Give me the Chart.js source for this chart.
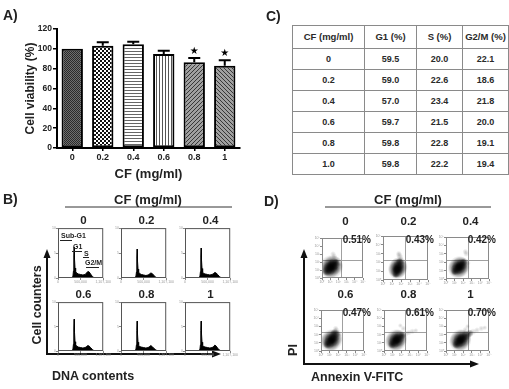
<!DOCTYPE html>
<html>
<head>
<meta charset="utf-8">
<script src="https://cdn.jsdelivr.net/npm/chart.js@4.4.1/dist/chart.umd.min.js"></script>
<style>
body{margin:0;width:509px;height:389px;background:#fff;position:relative;overflow:hidden;font-family:"Liberation Sans",Arial,sans-serif;font-weight:bold;color:#222}
.abs{position:absolute}
.txt{position:absolute;white-space:nowrap;font-weight:bold;line-height:1}
.mid{transform:translate(-50%,-50%)}
#cycleTable{border-collapse:collapse;table-layout:fixed;width:216px;height:150px;left:292px;top:25px}
#cycleTable td{border:1px solid #8a8a8a;text-align:center;vertical-align:middle;font-size:9px;padding:0;color:#2a2a2a}
#cycleTable tr:first-child td{font-size:9.5px}
.bar{position:absolute;height:1px;background:#222}
</style>
</head>
<body>
<canvas id="viabilityChart" class="abs" width="250" height="182" style="left:0;top:0"></canvas>
<table id="cycleTable" class="abs"></table>
<svg class="abs" style="left:0;top:0" width="509" height="389">
  <line x1="65" y1="207" x2="232" y2="207" stroke="#333" stroke-width="1"/>
  <line x1="325" y1="207" x2="491" y2="207" stroke="#333" stroke-width="1"/>
  <line x1="47" y1="355" x2="47" y2="257" stroke="#111" stroke-width="2"/>
  <polygon points="47,249 43.5,258 50.5,258" fill="#111"/>
  <line x1="46" y1="354" x2="213" y2="354" stroke="#111" stroke-width="2"/>
  <polygon points="221,354 212,350.5 212,357.5" fill="#111"/>
  <line x1="304" y1="365" x2="304" y2="257" stroke="#111" stroke-width="2"/>
  <polygon points="304,249 300.5,258 307.5,258" fill="#111"/>
  <line x1="303" y1="364" x2="471" y2="364" stroke="#111" stroke-width="2"/>
  <polygon points="479,364 470,360.5 470,367.5" fill="#111"/>
</svg>
<script>
// A) cell viability
var concentrations = ['0', '0.2', '0.4', '0.6', '0.8', '1'];
var viability = [100, 103.2, 104.6, 94.8, 86.4, 83.0];
var viabilityErr = [0, 3.4, 2.6, 3.2, 4.4, 5.5];
var significant = [false, false, false, false, true, true];
var viabilityTicks = [0, 20, 40, 60, 80, 100, 120];

// C) cell cycle table
var tableHead = ['CF (mg/ml)', 'G1 (%)', 'S (%)', 'G2/M (%)'];
var tableDose = ['0', '0.2', '0.4', '0.6', '0.8', '1.0'];
var phaseG1 = ['59.5', '59.0', '57.0', '59.7', '59.8', '59.8'];
var phaseS = ['20.0', '22.6', '23.4', '21.5', '22.8', '22.2'];
var phaseG2M = ['22.1', '18.6', '21.8', '20.0', '19.1', '19.4'];

// B) DNA histograms
var histX = [0, 40, 80, 200, 300, 330, 342, 350, 356, 362, 368, 376, 390, 410, 450, 500, 550, 600, 630, 660, 690, 720, 760, 800, 1000];
var hist0 = [0, 0.5, 0, 0.5, 1, 3, 14, 42, 62, 58, 38, 20, 13, 10, 8, 7, 6, 7, 10, 13, 12, 8, 3, 0.5, 0];
var hist02 = [0, 0.5, 0, 0.5, 1, 3, 12, 40, 58, 54, 34, 18, 12, 9, 7, 6, 5, 6, 8, 10, 9, 6, 2, 0.5, 0];
var hist04 = [0, 0.5, 0, 0.5, 1, 3, 13, 42, 60, 56, 36, 19, 12, 9, 8, 7, 6, 7, 9, 11, 10, 7, 3, 0.5, 0];
var hist06 = [0, 0.5, 0, 0.5, 1, 3, 14, 45, 65, 60, 38, 19, 13, 10, 8, 7, 6, 7, 9, 11, 10, 7, 3, 0.5, 0];
var hist08 = [0, 0.5, 0, 0.5, 1, 3, 13, 42, 61, 57, 35, 18, 12, 9, 8, 7, 6, 7, 9, 11, 9, 6, 3, 0.5, 0];
var hist1 = [0, 0.5, 0, 0.5, 1, 3, 13, 42, 61, 57, 35, 18, 12, 9, 8, 7, 6, 7, 9, 12, 10, 6, 2, 0.5, 0];
var histXTicks = ['0', '500,000', '1,107,100'];
var histYTicks = ['0', '5', '10'];

// D) annexin V / PI dot plots, [x, y, r]
var apo0 = [[23,28,12],[19,24,10],[27,32,10],[22,27,7],[24,29,6],[16,21,7],[29,35,6],[23,28,4],[21,26,4],[13,18,5],[33,38,4],[27,60,3],[30,54,3],[36,42,2.5],[42,34,2.5],[10,14,3],[35,24,2.5],[20,40,2.5]];
var apo02 = [[33,27,10],[31,22,9],[35,32,9],[33,27,6],[32,25,5],[30,18,6],[36,36,6],[33,27,4],[31,23,4],[29,14,4],[37,41,4],[36,56,3.5],[38,52,3.5],[35,60,3],[40,47,3],[45,40,2.5],[27,10,3]];
var apo04 = [[31,29,11],[27,25,10],[34,32,9],[30,28,7],[32,30,5],[24,22,6],[37,35,6],[31,29,4],[29,27,4],[21,19,4],[40,39,4],[45,65,3],[47,60,3],[42,45,2.5],[48,42,2.5],[52,38,2.5],[18,14,3]];
var apo06 = [[25,27,11],[21,23,10],[29,31,9],[24,26,7],[26,29,5],[18,19,6],[31,36,6],[25,27,4],[23,25,4],[15,16,4],[33,42,5],[36,50,3.5],[34,55,3],[40,45,3],[44,40,2.5],[30,46,3.5]];
var apo08 = [[29,27,11],[25,23,10],[33,31,9],[28,26,7],[30,29,5],[22,19,6],[36,34,6],[29,27,4],[27,25,4],[19,16,4],[42,38,4],[50,42,3.5],[58,45,3],[66,48,3],[45,55,3],[38,62,2.5],[74,50,2.5]];
var apo1 = [[34,27,11],[30,23,10],[38,31,9],[33,26,7],[35,29,5],[27,19,6],[41,34,6],[34,27,4],[32,25,4],[24,16,4],[47,38,5],[55,43,4],[63,47,3.5],[72,51,3],[82,55,3],[90,57,2.5],[45,52,3],[50,60,2.5]];
var apoPercent = ['0.51%', '0.43%', '0.42%', '0.47%', '0.61%', '0.70%'];
var gateX = [46, 49, 50, 48, 48, 50];
var gateY = [46, 46, 46, 46, 46, 46];
var apoTicks = ['10\u2070', '10\u00b9', '10\u00b2', '10\u00b3', '10\u2074', '10\u2075'];

var FONT = '"Liberation Sans", Arial, sans-serif';
Chart.defaults.font.family = FONT;
Chart.defaults.font.weight = 'bold';
Chart.defaults.color = '#222';
Chart.defaults.animation = false;

function addText(text, x, y, size, extra)
{
  var d = document.createElement('div');
  d.className = 'txt' + (extra && extra.left ? '' : ' mid');
  d.style.left = x + 'px';
  d.style.top = y + 'px';
  d.style.fontSize = size + 'px';
  if (extra && extra.rotate) d.style.transform = 'translate(-50%,-50%) rotate(-90deg)';
  if (extra && extra.right) { d.className = 'txt'; d.style.left = ''; d.style.right = (509 - x) + 'px'; d.style.transform = 'translateY(-50%)'; }
  d.textContent = text;
  document.body.appendChild(d);
  return d;
}

function addBar(x, y, w)
{
  var d = document.createElement('div');
  d.className = 'bar';
  d.style.left = x + 'px'; d.style.top = y + 'px'; d.style.width = w + 'px';
  document.body.appendChild(d);
}

function makePattern(kind)
{
  var c = document.createElement('canvas');
  var g = c.getContext('2d');
  if (kind == 'fine') {
    c.width = 2; c.height = 2;
    g.fillStyle = '#6e6e6e'; g.fillRect(0, 0, 2, 2);
    g.fillStyle = '#2a2a2a'; g.fillRect(0, 0, 1, 1); g.fillRect(1, 1, 1, 1);
  } else if (kind == 'checker') {
    c.width = 4; c.height = 4;
    g.fillStyle = '#fff'; g.fillRect(0, 0, 4, 4);
    g.fillStyle = '#111'; g.fillRect(0, 0, 2, 2); g.fillRect(2, 2, 2, 2);
  } else if (kind == 'hlines') {
    c.width = 1; c.height = 3;
    g.fillStyle = '#fff'; g.fillRect(0, 0, 1, 3);
    g.fillStyle = '#666'; g.fillRect(0, 0, 1, 1);
  } else if (kind == 'vlines') {
    c.width = 3; c.height = 1;
    g.fillStyle = '#fff'; g.fillRect(0, 0, 3, 1);
    g.fillStyle = '#555'; g.fillRect(0, 0, 1, 1);
  } else {
    c.width = 4; c.height = 4;
    g.fillStyle = '#a0a0a0'; g.fillRect(0, 0, 4, 4);
    g.fillStyle = '#383838';
    for (var i = 0; i < 4; i++) {
      if (kind == 'diagUp') g.fillRect(i, 3 - i, 1, 1);
      else g.fillRect(i, i, 1, 1);
    }
  }
  return g.createPattern(c, 'repeat');
}

// soft blob fill so the dot plot reads as a density cloud; small stray dots stay pale
function blobFill(context)
{
  var chart = context.chart, raw = context.raw;
  if (!raw || !chart.chartArea) return 'rgba(0,0,0,0.2)';
  var px = chart.scales.x.getPixelForValue(raw.x);
  var py = chart.scales.y.getPixelForValue(raw.y);
  var peak = raw.r > 3.6 ? 0.6 : 0.16;
  var g = chart.ctx.createRadialGradient(px, py, 0, px, py, raw.r);
  g.addColorStop(0, 'rgba(0,0,0,' + peak + ')');
  g.addColorStop(0.55, 'rgba(0,0,0,' + (peak / 2) + ')');
  g.addColorStop(1, 'rgba(0,0,0,0)');
  return g;
}

var errorBarPlugin = {
  id: 'errorBars',
  afterDatasetsDraw: function(chart)
  {
    var ctx = chart.ctx, meta = chart.getDatasetMeta(0), y = chart.scales.y;
    ctx.save();
    ctx.strokeStyle = '#000'; ctx.fillStyle = '#000'; ctx.lineWidth = 2;
    ctx.font = '10px "DejaVu Sans"'; ctx.textAlign = 'center'; ctx.textBaseline = 'middle';
    for (var i = 0; i < meta.data.length; i++) {
      var bar = meta.data[i];
      var top = y.getPixelForValue(viability[i] + viabilityErr[i]);
      if (viabilityErr[i] > 0) {
        ctx.beginPath();
        ctx.moveTo(bar.x, bar.y); ctx.lineTo(bar.x, top);
        ctx.moveTo(bar.x - 6, top); ctx.lineTo(bar.x + 6, top);
        ctx.stroke();
      }
      if (significant[i]) ctx.fillText('\u2605', bar.x, top - 7);
    }
    ctx.restore();
  }
};

var framePlugin = {
  id: 'frame',
  afterDraw: function(chart, args, opts)
  {
    var a = chart.chartArea, ctx = chart.ctx;
    ctx.save();
    ctx.strokeStyle = opts.color || '#444'; ctx.lineWidth = 1;
    ctx.strokeRect(a.left + 0.5, a.top + 0.5, a.right - a.left - 1, a.bottom - a.top - 1);
    ctx.restore();
  }
};

var gatePlugin = {
  id: 'gate',
  beforeDatasetsDraw: function(chart, args, opts)
  {
    var a = chart.chartArea, ctx = chart.ctx;
    var gx = Math.round(chart.scales.x.getPixelForValue(opts.x)) + 0.5;
    var gy = Math.round(chart.scales.y.getPixelForValue(opts.y)) + 0.5;
    ctx.save();
    ctx.strokeStyle = '#a0a0a0'; ctx.lineWidth = 1;
    ctx.beginPath();
    ctx.moveTo(gx, a.top); ctx.lineTo(gx, a.bottom);
    ctx.moveTo(a.left, gy); ctx.lineTo(a.right, gy);
    ctx.stroke();
    ctx.restore();
  }
};

function drawViabilityChart()
{
  var ctx = document.getElementById('viabilityChart');
  var patterns = ['fine', 'checker', 'hlines', 'vlines', 'diagUp', 'diagDown'].map(makePattern);
  new Chart(ctx, {
    type: 'bar',
    data: {
      labels: concentrations,
      datasets: [{
        data: viability,
        backgroundColor: patterns,
        borderColor: '#000',
        borderWidth: 2,
        borderSkipped: false,
        barPercentage: 0.7,
        categoryPercentage: 1
      }]
    },
    options: {
      responsive: false,
      layout: { padding: { left: 23, top: 29, right: 10, bottom: 0 } },
      plugins: { legend: { display: false }, tooltip: { enabled: false } },
      scales: {
        x: {
          grid: { offset: false, drawOnChartArea: false, color: '#000', tickLength: 3, lineWidth: 1.5 },
          border: { color: '#000', width: 2 },
          ticks: { font: { size: 9, weight: 'bold' }, color: '#222', padding: 1 },
          title: { display: true, text: 'CF (mg/ml)', font: { size: 13, weight: 'bold' }, color: '#222', padding: 0 },
          afterFit: function(s) { s.height = 34; }
        },
        y: {
          min: 0, max: 120,
          afterBuildTicks: function(s) { s.ticks = viabilityTicks.map(function(v) { return { value: v }; }); },
          ticks: { font: { size: 8.5, weight: 'bold' }, color: '#222', padding: 1 },
          grid: { drawOnChartArea: false, color: '#000', tickLength: 4, lineWidth: 1.5 },
          border: { color: '#000', width: 2 },
          title: { display: true, text: 'Cell viability (%)', font: { size: 12, weight: 'bold' }, color: '#222', padding: 0 },
          afterFit: function(s) { s.width = 34; }
        }
      }
    },
    plugins: [errorBarPlugin]
  });
}

function drawTable()
{
  var t = document.getElementById('cycleTable');
  var widths = [72, 52, 46, 46];
  var rows = [tableHead];
  for (var i = 0; i < tableDose.length; i++) rows.push([tableDose[i], phaseG1[i], phaseS[i], phaseG2M[i]]);
  var html = '<colgroup>' + widths.map(function(w) { return '<col style="width:' + w + 'px">'; }).join('') + '</colgroup>';
  rows.forEach(function(r) {
    html += '<tr>' + r.map(function(c) { return '<td>' + c + '</td>'; }).join('') + '</tr>';
  });
  t.innerHTML = html;
}

function placeCanvas(box)
{
  var c = document.createElement('canvas');
  c.width = box[2] + 10; c.height = box[3] + 8;
  c.className = 'abs';
  c.style.left = (box[0] - 8) + 'px';
  c.style.top = (box[1] - 2) + 'px';
  document.body.appendChild(c);
  return c;
}

function smallScales(xMax, xStep, xLabels, yMax, yStep, yLabels)
{
  var tickFont = { size: 3.5, weight: 'normal' };
  return {
    x: {
      type: 'linear', min: 0, max: xMax,
      ticks: { stepSize: xStep, font: tickFont, color: '#999', padding: 0, maxRotation: 0, autoSkip: false,
        callback: function(v, i) { return xLabels[i]; } },
      grid: { drawOnChartArea: false, tickLength: 2, color: '#888' },
      border: { display: false },
      afterFit: function(s) { s.height = 6; }
    },
    y: {
      type: 'linear', min: 0, max: yMax,
      ticks: { stepSize: yStep, font: tickFont, color: '#999', padding: 0,
        callback: function(v, i) { return yLabels[i]; } },
      grid: { drawOnChartArea: false, tickLength: 2, color: '#888' },
      border: { display: false },
      afterFit: function(s) { s.width = 8; }
    }
  };
}

function drawHistograms()
{
  var boxes = [[58,228,51,50],[121,228,51,50],[185,228,51,50],[58,302,51,49],[121,302,51,49],[185,302,51,49]];
  var series = [hist0, hist02, hist04, hist06, hist08, hist1];
  for (var k = 0; k < 6; k++) {
    var pts = histX.map(function(x, i) { return { x: x, y: series[k][i] }; });
    new Chart(placeCanvas(boxes[k]), {
      type: 'line',
      data: { datasets: [{ data: pts, fill: 'origin', backgroundColor: '#000', borderColor: '#000', borderWidth: 1, pointRadius: 0, tension: 0 }] },
      options: {
        responsive: false,
        layout: { padding: { top: 2, right: 2 } },
        plugins: { legend: { display: false }, tooltip: { enabled: false }, frame: { color: '#555' } },
        scales: smallScales(1000, 500, histXTicks, 100, 50, histYTicks)
      },
      plugins: [framePlugin]
    });
    addText(concentrations[k], boxes[k][0] + boxes[k][2] / 2, boxes[k][1] - 7, 11.5);
  }
  // phase markers in the first histogram
  addText('Sub-G1', 61, 232, 7, { left: true }); addBar(60, 240, 12);
  addText('G1', 73, 243, 7, { left: true }); addBar(72, 251, 10);
  addText('S', 84, 250, 7, { left: true }); addBar(83, 257, 6);
  addText('G2/M', 85, 259, 7, { left: true }); addBar(86, 267, 13);
}

function drawDotPlots()
{
  var boxes = [[318,228,55,56],[381,228,55,56],[443,228,55,56],[318,301,55,55],[381,301,55,55],[443,301,55,55]];
  var clouds = [apo0, apo02, apo04, apo06, apo08, apo1];
  for (var k = 0; k < 6; k++) {
    var pts = clouds[k].map(function(p) { return { x: p[0], y: p[1], r: p[2] }; });
    new Chart(placeCanvas(boxes[k]), {
      type: 'bubble',
      data: { datasets: [{ data: pts, backgroundColor: blobFill, borderColor: 'rgba(0,0,0,0)', borderWidth: 0, hoverBorderWidth: 0 }] },
      options: {
        responsive: false,
        elements: { point: { borderWidth: 0, borderColor: 'rgba(0,0,0,0)' } },
        layout: { padding: { top: 2, right: 2 } },
        plugins: { legend: { display: false }, tooltip: { enabled: false }, frame: { color: '#8a8a8a' }, gate: { x: gateX[k], y: gateY[k] } },
        scales: smallScales(100, 20, apoTicks, 100, 20, apoTicks)
      },
      plugins: [gatePlugin, framePlugin]
    });
    addText(concentrations[k], boxes[k][0] + boxes[k][2] / 2, boxes[k][1] - 6, 11.5);
    addText(apoPercent[k], boxes[k][0] + boxes[k][2] - 2, boxes[k][1] + 12, 10, { right: true });
  }
}

drawViabilityChart();
drawTable();
drawHistograms();
drawDotPlots();

addText('A)', 3, 8, 14, { left: true });
addText('C)', 266, 9, 14, { left: true });
addText('B)', 3, 192, 14, { left: true });
addText('D)', 264, 194, 14, { left: true });
addText('CF (mg/ml)', 148, 199, 13);
addText('CF (mg/ml)', 408, 199, 13);
addText('Cell counters', 37, 305, 12.5, { rotate: true });
addText('DNA contents', 52, 370, 12.5, { left: true });
addText('PI', 293, 350, 12.5, { rotate: true });
addText('Annexin V-FITC', 311, 371, 12.5, { left: true });
</script>
</body>
</html>
